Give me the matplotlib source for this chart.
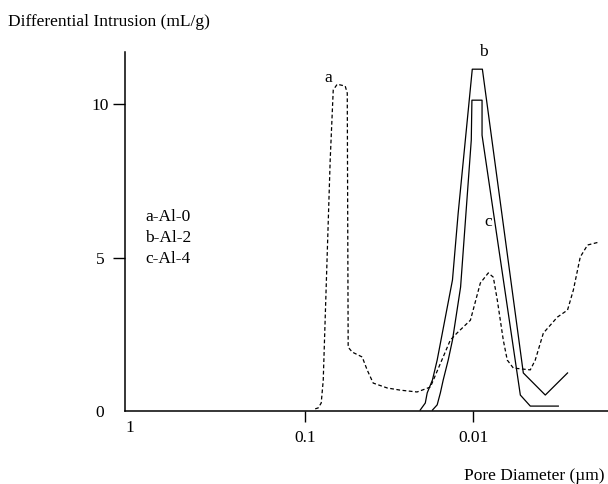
import matplotlib
matplotlib.use("Agg")
import matplotlib.pyplot as plt
import matplotlib.transforms as mtransforms

plt.rcParams["font.family"] = ["Liberation Serif", "DejaVu Serif"]
plt.rcParams["font.size"] = 12.5

# a - Al-0 (dashed)
a_diam = [0.0872, 0.0837, 0.0803, 0.0781, 0.0710, 0.0681, 0.0645, 0.0578,
          0.0562, 0.0555, 0.0525, 0.0458, 0.0428, 0.0394, 0.0325, 0.0272,
          0.0216, 0.0180, 0.0137, 0.0125, 0.0104, 0.00908, 0.00814, 0.00760,
          0.00720, 0.00663, 0.00628, 0.00578, 0.00458, 0.00428, 0.00383,
          0.00316, 0.00275, 0.00254, 0.00231, 0.00209, 0.00180]
a_intr = [0.07, 0.10, 0.26, 1.0, 8.18, 10.46, 10.65, 10.59,
          10.36, 2.08, 1.92, 1.76, 1.34, 0.91, 0.75, 0.68,
          0.62, 0.78, 2.31, 2.54, 2.96, 4.17, 4.50, 4.36,
          3.62, 2.31, 1.66, 1.40, 1.34, 1.66, 2.54,
          3.06, 3.29, 3.94, 5.02, 5.41, 5.50]

# b - Al-2 (outer solid)
b_diam = [0.0207, 0.0193, 0.0188, 0.0175, 0.0164, 0.0133, 0.0123,
          0.01014, 0.00883, 0.00504, 0.00373, 0.00275]
b_intr = [0.03, 0.26, 0.59, 1.01, 1.66, 4.27, 6.45,
          11.14, 11.14, 1.24, 0.52, 1.24]

# c - Al-4 (inner solid)
c_diam = [0.0175, 0.0164, 0.0157, 0.0151, 0.0141, 0.0133, 0.0119,
          0.01028, 0.01019, 0.00887, 0.00887, 0.00525, 0.00458, 0.00312]
c_intr = [0.03, 0.20, 0.59, 1.01, 1.66, 2.31, 4.04,
          8.83, 10.13, 10.13, 8.99, 0.52, 0.16, 0.16]

legend_lines = ["a-Al-0", "b-Al-2", "c-Al-4"]
x_ticks = [0.1, 0.01]
x_tick_labels = ["0.1", "0.01"]
y_ticks = [0, 5, 10]
y_tick_labels = ["0", "5", "10"]

fig = plt.figure(figsize=(6.08, 4.84), dpi=100)
ax = fig.add_axes([125 / 608, 73 / 484, 483 / 608, 359 / 484])

ax.plot(a_diam, a_intr, color="black", lw=0.9, dashes=(3, 2))
ax.plot(b_diam, b_intr, color="black", lw=0.9)
ax.plot(c_diam, c_intr, color="black", lw=0.9)

ax.set_xscale("log")
ax.set_xlim(1.18, 0.00158)
ax.set_ylim(0, 11.7)

for side in ("top", "right"):
    ax.spines[side].set_visible(False)
for side in ("left", "bottom"):
    ax.spines[side].set_linewidth(1.1)

ax.minorticks_off()
ax.set_xticks(x_ticks)
ax.set_xticklabels(x_tick_labels)
ax.set_yticks(y_ticks)
ax.set_yticklabels(y_tick_labels)
ax.tick_params(axis="x", direction="out", length=8, width=1, pad=6)
ax.tick_params(axis="y", direction="out", length=8.6, width=1, pad=9.5)
for lab in ax.get_yticklabels():
    lab.set_ha("center")
ax.yaxis.get_major_ticks()[0].tick1line.set_visible(False)

# "1" at the left end of the axis (no tick mark)
trans = mtransforms.blended_transform_factory(ax.transData, ax.transAxes)
ax.text(1.1, -0.047, "1", transform=trans, ha="center", va="center")

# curve letters
ax.text(0.0729, 10.85, "a", ha="center", va="center")
ax.text(0.0087, 11.7, "b", ha="center", va="center")
ax.text(0.0081, 6.16, "c", ha="center", va="center")

# legend block
for i, txt in enumerate(legend_lines):
    fig.text(145 / 608, 1 - (217 + 21 * i) / 484, txt, ha="left", va="center")

fig.text(8 / 608, 1 - 22 / 484, "Differential Intrusion (mL/g)",
         ha="left", va="center")
fig.text(605 / 608, 1 - 476 / 484, "Pore Diameter (\u00b5m)",
         ha="right", va="center")

fig.savefig("out.png", dpi=100)
